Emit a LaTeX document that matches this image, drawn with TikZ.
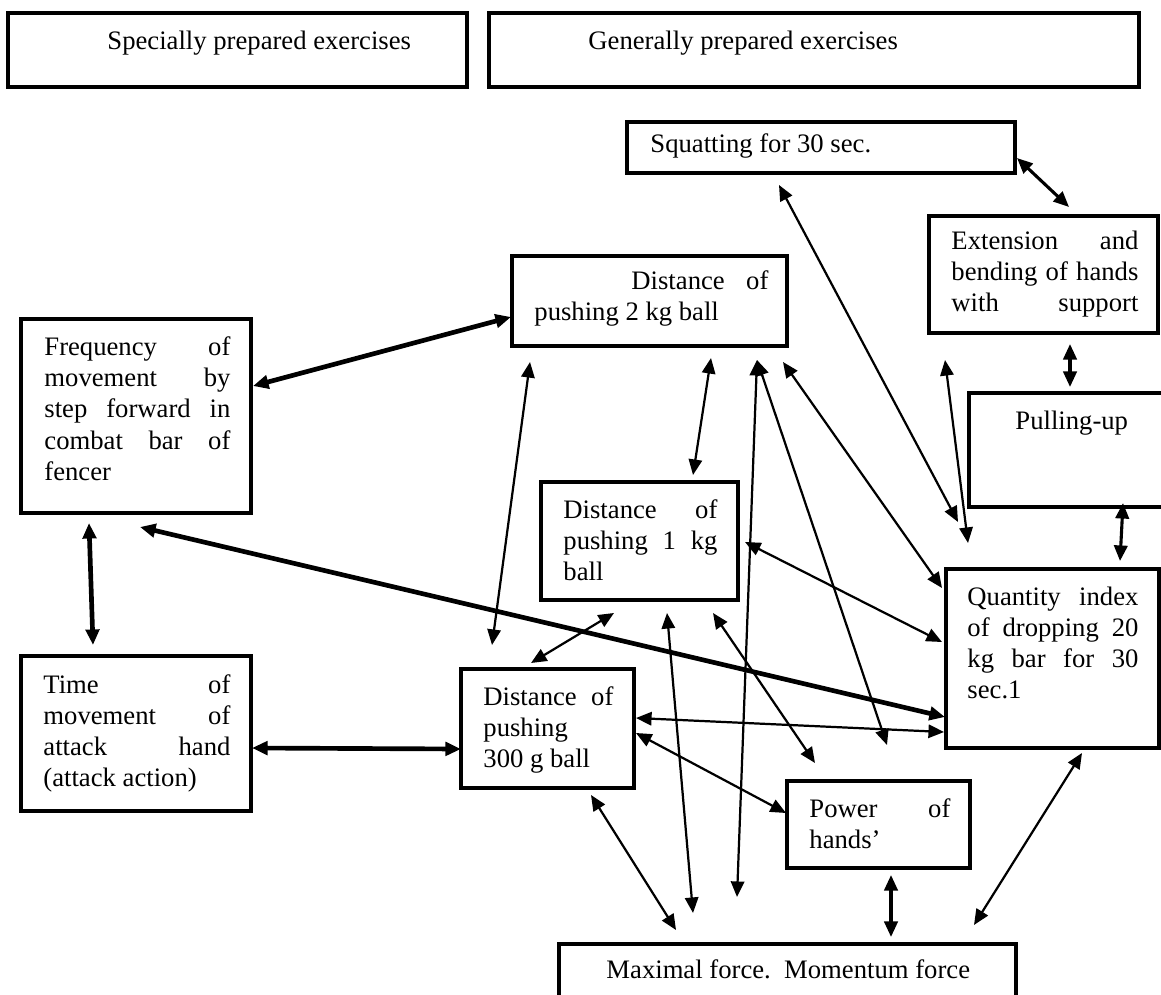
\documentclass[tikz,border=0pt]{standalone}
\usepackage{fontspec}
\setmainfont{Liberation Serif}
\usetikzlibrary{arrows.meta,fit}
\newcommand\jstline[1]{\makebox[\linewidth][s]{#1}}
\begin{document}
\begin{tikzpicture}[x=0.45pt,y=-0.45pt,
  box/.style={draw,line width=1.8pt,inner sep=0pt},
  txt/.style={inner sep=0pt,anchor=base west,font=\fontsize{12}{13.95}\selectfont},
  arr/.style={line width=1pt,<->,>={Triangle[length=7pt,width=6pt]}},
  marr/.style={arr,line width=1.4pt},
  tarr/.style={arr,line width=2.1pt}]
\useasboundingbox (0,0) rectangle (1161,995);
\fill[white] (0,0) rectangle (1161,995);
\clip (0,0) rectangle (1161,995);

% boxes
\node[box,fit={(8,13)(467,87)}] (spec) {};
\node[box,fit={(489,13)(1139,87)}] (gen) {};
\node[box,fit={(627,122)(1015,173)}] (squat) {};
\node[box,fit={(929,216)(1158,333)}] (ext) {};
\node[box,fit={(512,256)(787,346)}] (d2) {};
\node[box,fit={(969,393)(1185,507)}] (pull) {};
\node[box,fit={(21,319)(251,513)}] (freq) {};
\node[box,fit={(541,482)(738,600)}] (d1) {};
\node[box,fit={(946,569)(1159,748)}] (qty) {};
\node[box,fit={(21,656)(251,811)}] (time) {};
\node[box,fit={(461,669)(634,788)}] (d300) {};
\node[box,fit={(787,781)(970,868)}] (power) {};
\node[box,fit={(559,944)(1016,1020)}] (maxf) {};

% texts
\node[txt] (specT) at (107,50) {Specially prepared exercises};
\node[txt] (genT) at (588,50) {Generally prepared exercises};
\node[txt] (squatT) at (650,153) {Squatting for 30 sec.};
\node[txt] (extT) at (951,250) {\parbox[t]{84.15pt}{\jstline{Extension and}\\\jstline{bending of hands}\\\jstline{with support}}};
\node[txt] (d2T) at (534,290) {\parbox[t]{105.3pt}{\hspace*{43.65pt}\makebox[61.65pt][s]{Distance of}\\pushing 2 kg ball}};
\node[txt] (pullT) at (1015,430) {Pulling-up};
\node[txt] (freqT) at (44,356) {\parbox[t]{83.7pt}{\jstline{Frequency of}\\\jstline{movement by}\\\jstline{step forward in}\\\jstline{combat bar of}\\fencer}};
\node[txt] (d1T) at (563,518) {\parbox[t]{69.3pt}{\jstline{Distance of}\\\jstline{pushing 1 kg}\\ball}};
\node[txt] (qtyT) at (967,605) {\parbox[t]{76.95pt}{\jstline{Quantity index}\\\jstline{of dropping 20}\\\jstline{kg bar for 30}\\sec.1}};
\node[txt] (timeT) at (43,693) {\parbox[t]{84.15pt}{\jstline{Time of}\\\jstline{movement of}\\\jstline{attack hand}\\(attack action)}};
\node[txt] (d300T) at (483,705) {\parbox[t]{58.5pt}{\jstline{Distance of}\\pushing\\300 g ball}};
\node[txt] (powerT) at (809,817) {\parbox[t]{63.45pt}{\jstline{Power of}\\hands’}};
\node[txt] (maxfT) at (606,978) {Maximal force.\ \ Momentum force};

% connector end points
\coordinate (squatE) at (1017,158);  \coordinate (extN) at (1069,207);
\coordinate (extS) at (1070,344);    \coordinate (pullN) at (1070,387);
\coordinate (pullS) at (1123,503);   \coordinate (qtyN) at (1120,561);
\coordinate (freqE) at (253,386);    \coordinate (d2W) at (511,317);
\coordinate (freqS) at (89,523);     \coordinate (timeN) at (93,645);
\coordinate (timeE) at (252,748);    \coordinate (d300W) at (461,749);
\coordinate (freqSE) at (140,527);   \coordinate (qtyW3) at (945,717);
\coordinate (d2S1) at (530,362);     \coordinate (d300N1) at (492,645);
\coordinate (d2S2) at (711,358);     \coordinate (d1N) at (693,475);
\coordinate (d2S3) at (757,360);     \coordinate (maxfN3) at (737,897);
\coordinate (powerNW) at (887,745);
\coordinate (d2S4) at (783,362);     \coordinate (qtyW1) at (942,588);
\coordinate (squatS) at (779,185);   \coordinate (qtyNW1) at (958,522);
\coordinate (extSW) at (945,360);    \coordinate (qtyNW2) at (968,543);
\coordinate (d1E) at (745,542);      \coordinate (qtyW2) at (942,642);
\coordinate (d300N2) at (531,663);   \coordinate (d1S1) at (614,613);
\coordinate (d1S2) at (667,613);     \coordinate (maxfN2) at (693,913);
\coordinate (d1S3) at (713,613);     \coordinate (powerN) at (815,763);
\coordinate (d300E1) at (636,718);   \coordinate (qtyW4) at (944,732);
\coordinate (d300E2) at (636,733);   \coordinate (powerW) at (786,813);
\coordinate (d300S) at (591,795);    \coordinate (maxfN1) at (676,930);
\coordinate (powerS) at (891,875);   \coordinate (maxfN4) at (891,937);
\coordinate (qtyS) at (1082,753);    \coordinate (maxfN5) at (974,925);

% connectors
\draw[marr] (squatE) -- (extN);
\draw[marr] (extS) -- (pullN);
\draw[marr] (pullS) -- (qtyN);
\draw[tarr] (freqE) -- (d2W);
\draw[tarr] (freqS) -- (timeN);
\draw[tarr] (timeE) -- (d300W);
\draw[tarr] (freqSE) -- (qtyW3);
\draw[arr] (d2S1) -- (d300N1);
\draw[arr] (d2S2) -- (d1N);
\draw[arr] (d2S3) -- (maxfN3);
\draw[arr] (d2S3) -- (powerNW);
\draw[arr] (d2S4) -- (qtyW1);
\draw[arr] (squatS) -- (qtyNW1);
\draw[arr] (extSW) -- (qtyNW2);
\draw[arr] (d1E) -- (qtyW2);
\draw[arr] (d300N2) -- (d1S1);
\draw[arr] (d1S2) -- (maxfN2);
\draw[arr] (d1S3) -- (powerN);
\draw[arr] (d300E1) -- (qtyW4);
\draw[arr] (d300E2) -- (powerW);
\draw[arr] (d300S) -- (maxfN1);
\draw[marr] (powerS) -- (maxfN4);
\draw[arr] (qtyS) -- (maxfN5);
\end{tikzpicture}
\end{document}
